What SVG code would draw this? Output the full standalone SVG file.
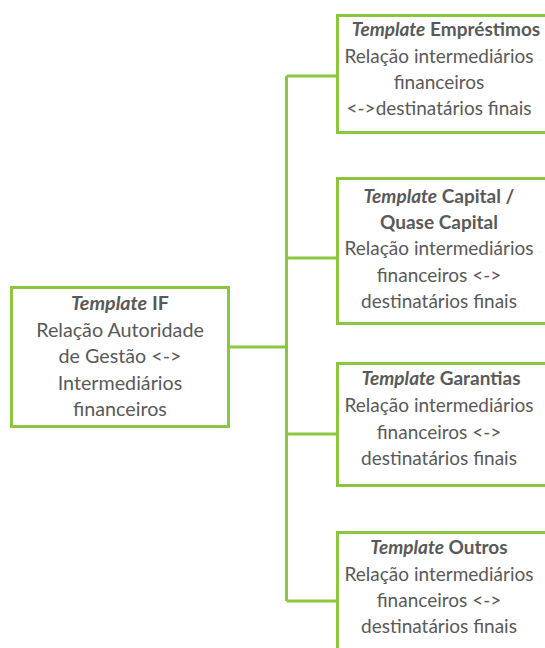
<svg xmlns="http://www.w3.org/2000/svg" width="545" height="648" viewBox="0 0 545 648">
<style>
.box{fill:#ffffff;stroke:#8CC63E;stroke-width:3}
.con{fill:none;stroke:#8CC63E;stroke-width:3}
text{font-family:Lato,"Open Sans","Liberation Sans",sans-serif;font-size:19px;fill:#595959;text-anchor:middle}
.l text{font-size:19.7px}
.b{font-weight:bold}
.i{font-style:italic;font-weight:bold}
</style>
<rect width="545" height="648" fill="#ffffff"/>
<g id="connectors">
<path class="con" d="M229 347H286.5M286.5 76V601M286.5 76H337M286.5 258H337M286.5 434H337M286.5 601H337"/>
</g>
<g id="node-if" class="l">
<rect class="box" x="11.5" y="287.5" width="217" height="139"/>
<text x="120" y="310"><tspan class="i">Template</tspan><tspan class="b"> IF</tspan></text>
<text x="120" y="337">Relação Autoridade</text>
<text x="120" y="363">de Gestão &lt;-&gt;</text>
<text x="120" y="390">Intermediários</text>
<text x="120" y="416">financeiros</text>
</g>
<g id="node-emprestimos">
<rect class="box" x="337.5" y="15.5" width="215" height="117"/>
<text x="446" y="36"><tspan class="i">Template</tspan><tspan class="b"> Empréstimos</tspan></text>
<text x="439" y="63">Relação intermediários</text>
<text x="439" y="89">financeiros</text>
<text x="439" y="115">&lt;-&gt;destinatários finais</text>
</g>
<g id="node-capital">
<rect class="box" x="337.5" y="178.5" width="215" height="145"/>
<text x="439" y="203"><tspan class="i">Template</tspan><tspan class="b"> Capital /</tspan></text>
<text x="439" y="229" class="b">Quase Capital</text>
<text x="439" y="255">Relação intermediários</text>
<text x="439" y="282">financeiros &lt;-&gt;</text>
<text x="439" y="308">destinatários finais</text>
</g>
<g id="node-garantias">
<rect class="box" x="337.5" y="363.5" width="215" height="122"/>
<text x="441" y="385"><tspan class="i">Template</tspan><tspan class="b"> Garantias</tspan></text>
<text x="439" y="412">Relação intermediários</text>
<text x="439" y="439">financeiros &lt;-&gt;</text>
<text x="439" y="465">destinatários finais</text>
</g>
<g id="node-outros">
<rect class="box" x="337.5" y="532.5" width="215" height="130"/>
<text x="439" y="554"><tspan class="i">Template</tspan><tspan class="b"> Outros</tspan></text>
<text x="439" y="581">Relação intermediários</text>
<text x="439" y="607">financeiros &lt;-&gt;</text>
<text x="439" y="633">destinatários finais</text>
</g>
</svg>
